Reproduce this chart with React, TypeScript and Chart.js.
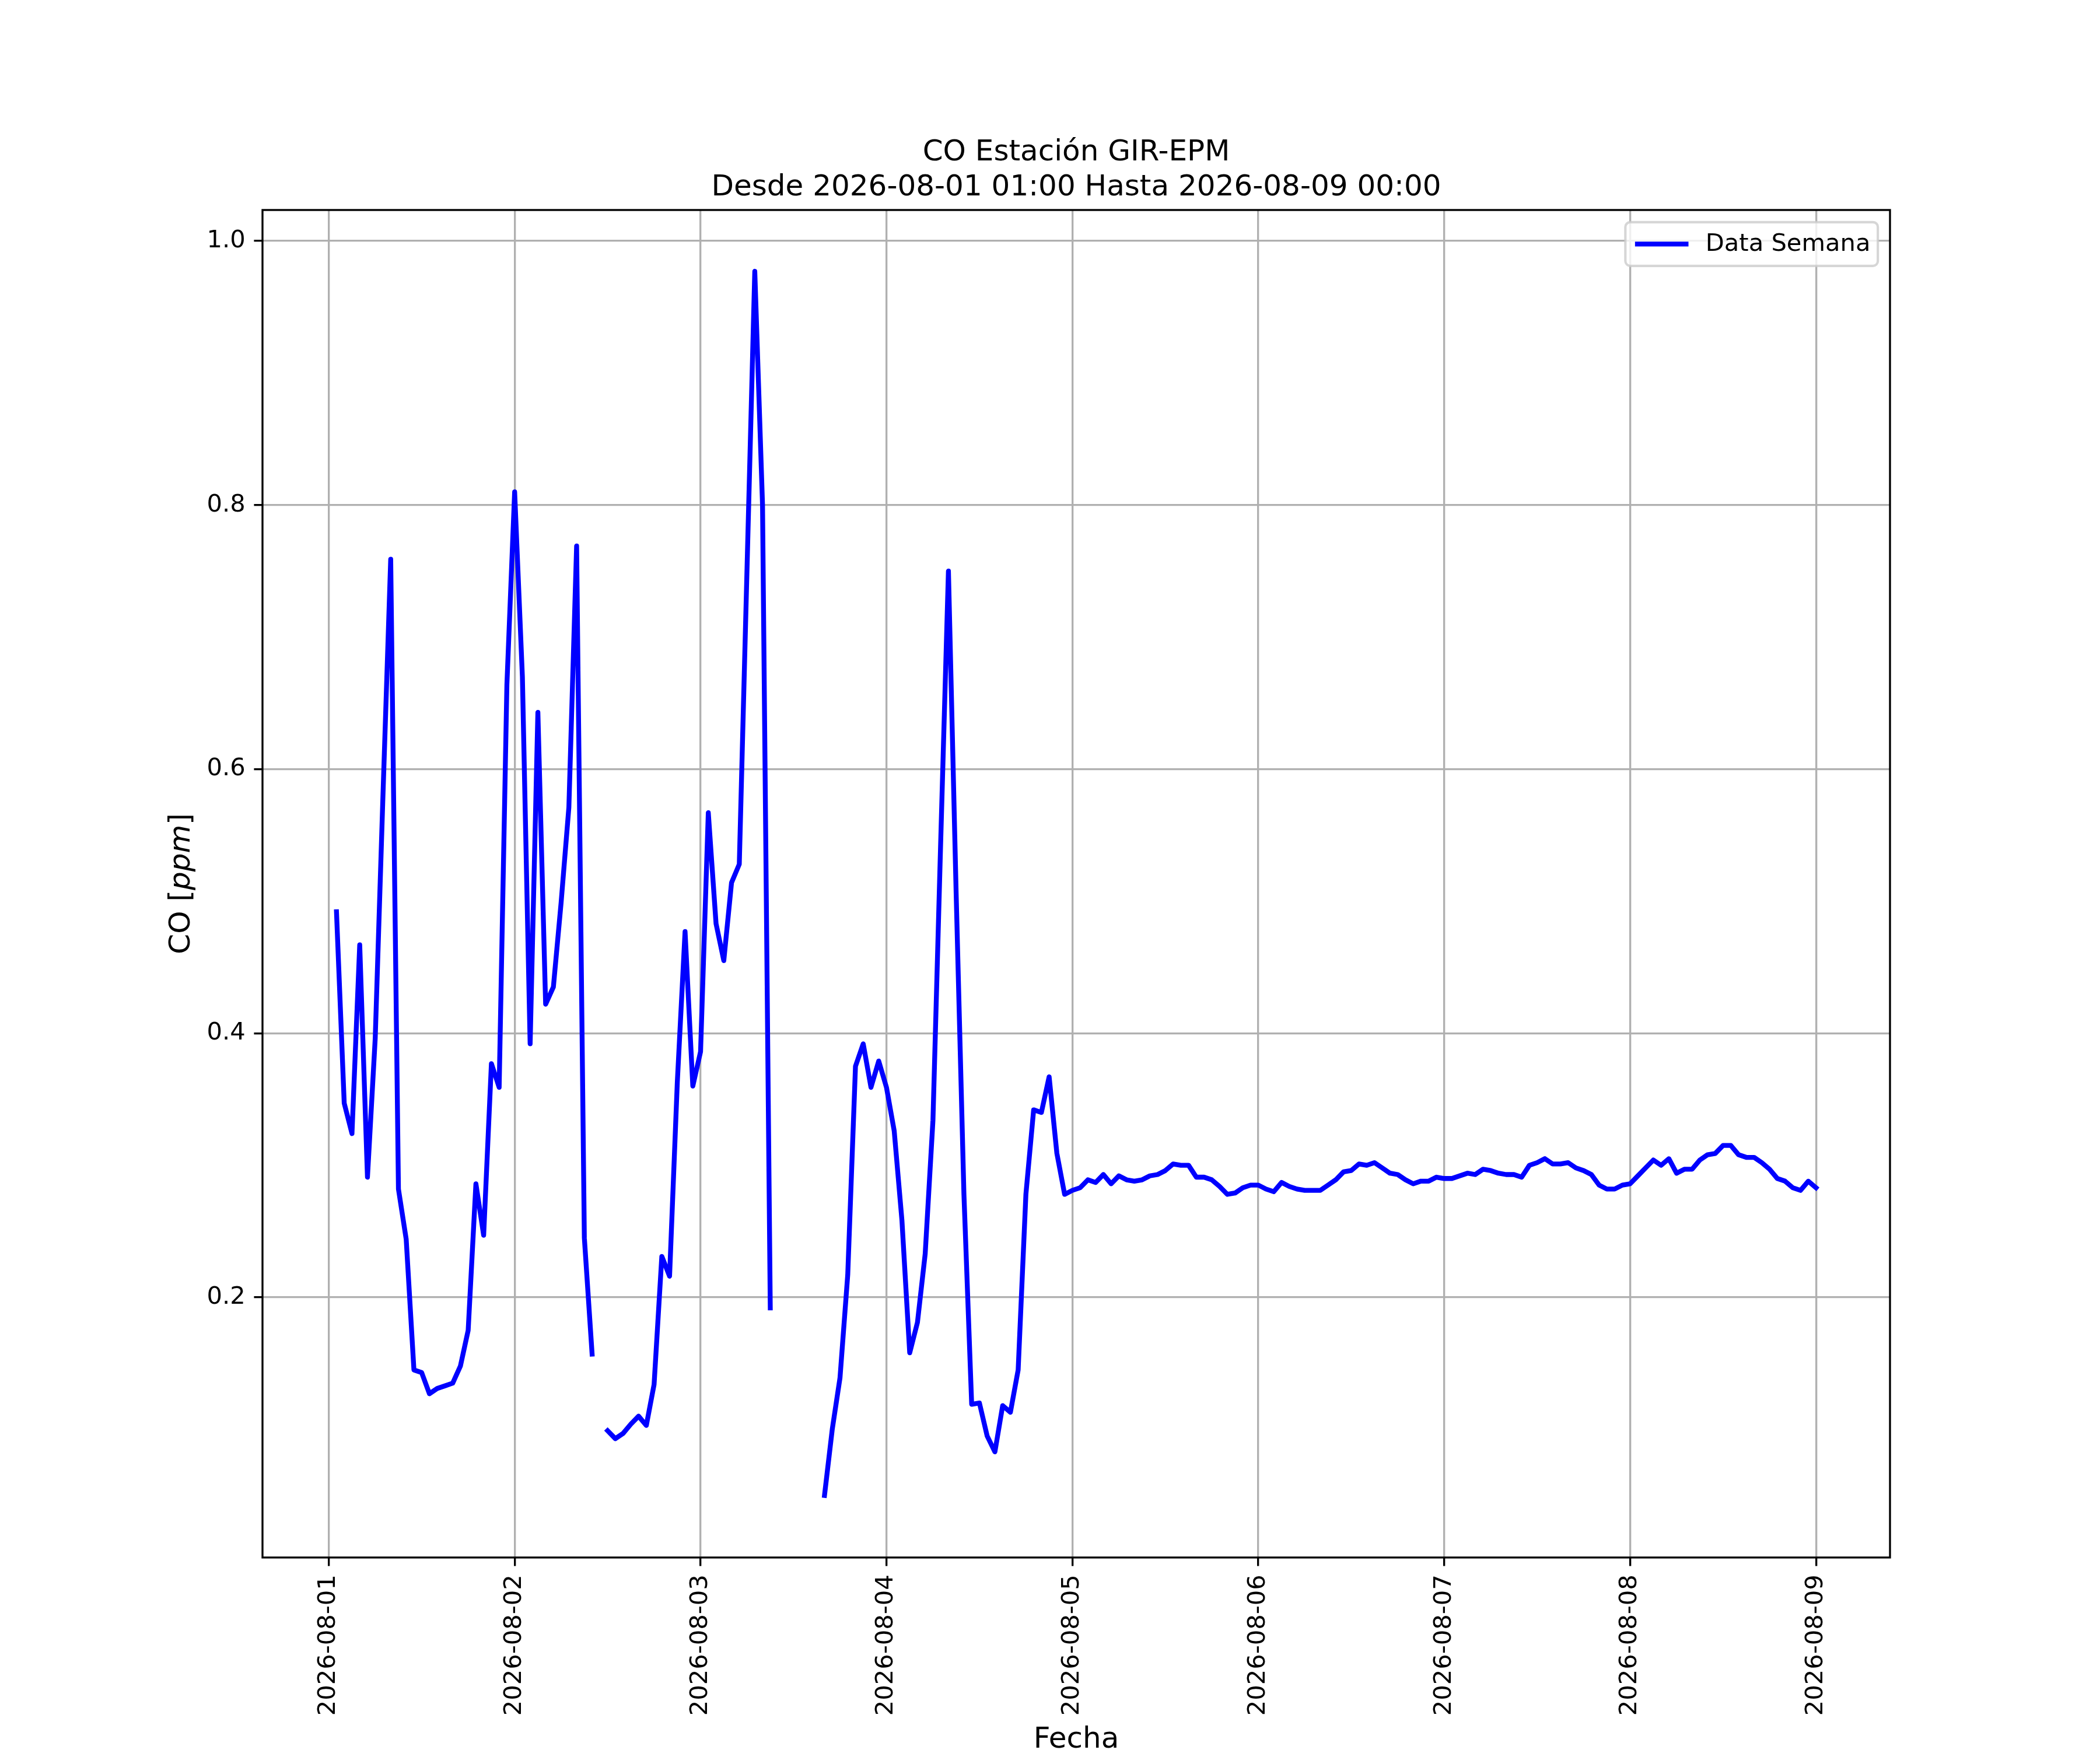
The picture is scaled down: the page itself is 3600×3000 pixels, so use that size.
import { useEffect, useRef } from "react"
import { Chart, registerables, type Plugin } from "chart.js"

Chart.register(...registerables)

// hourly CO readings, 2026-08-01 01:00 .. 2026-08-09 00:00 (null = no data)
const FIRST_HOUR = 1
const CO_PPM: (number | null)[] = [
  // 08-01
  0.492, 0.347, 0.324, 0.467, 0.291, 0.396, 0.580, 0.759, 0.282, 0.244, 0.145, 0.143,
  0.127, 0.131, 0.133, 0.135, 0.148, 0.175, 0.286, 0.247, 0.377, 0.359, 0.664, 0.810,
  // 08-02
  0.670, 0.392, 0.643, 0.422, 0.435, 0.499, 0.571, 0.769, 0.245, 0.157, null, 0.099,
  0.093, 0.097, 0.104, 0.110, 0.103, 0.134, 0.231, 0.216, 0.363, 0.477, 0.360, 0.386,
  // 08-03
  0.567, 0.483, 0.455, 0.514, 0.528, 0.752, 0.977, 0.800, 0.192, null, null, null,
  null, null, null, 0.050, 0.100, 0.139, 0.217, 0.375, 0.392, 0.359, 0.379, 0.359,
  // 08-04
  0.326, 0.258, 0.158, 0.181, 0.233, 0.334, 0.545, 0.750, 0.505, 0.278, 0.119, 0.120,
  0.095, 0.083, 0.118, 0.113, 0.145, 0.278, 0.342, 0.340, 0.367, 0.309, 0.278, 0.281,
  // 08-05
  0.283, 0.289, 0.287, 0.293, 0.286, 0.292, 0.289, 0.288, 0.289, 0.292, 0.293, 0.296,
  0.301, 0.300, 0.300, 0.291, 0.291, 0.289, 0.284, 0.278, 0.279, 0.283, 0.285, 0.285,
  // 08-06
  0.282, 0.280, 0.287, 0.284, 0.282, 0.281, 0.281, 0.281, 0.285, 0.289, 0.295, 0.296,
  0.301, 0.300, 0.302, 0.298, 0.294, 0.293, 0.289, 0.286, 0.288, 0.288, 0.291, 0.290,
  // 08-07
  0.290, 0.292, 0.294, 0.293, 0.297, 0.296, 0.294, 0.293, 0.293, 0.291, 0.300, 0.302,
  0.305, 0.301, 0.301, 0.302, 0.298, 0.296, 0.293, 0.285, 0.282, 0.282, 0.285, 0.286,
  // 08-08
  0.292, 0.298, 0.304, 0.300, 0.305, 0.294, 0.297, 0.297, 0.304, 0.308, 0.309, 0.315,
  0.315, 0.308, 0.306, 0.306, 0.302, 0.297, 0.290, 0.288, 0.283, 0.281, 0.288, 0.283,
]

const TICK_HOURS = [0, 24, 48, 72, 96, 120, 144, 168, 192]
const TICK_LABELS = [
  "2026-08-01", "2026-08-02", "2026-08-03", "2026-08-04", "2026-08-05",
  "2026-08-06", "2026-08-07", "2026-08-08", "2026-08-09",
]
const Y_TICKS = [0.2, 0.4, 0.6, 0.8, 1.0]

const TITLE = ["CO Estación GIR-EPM", "Desde 2026-08-01 01:00 Hasta 2026-08-09 00:00"]
const SERIES_LABEL = "Data Semana"

const W = 3600
const H = 3000
const PT = 300 / 72 // matplotlib at 300 dpi
const FONT = "'DejaVu Sans', sans-serif"

// titles, frame, axis labels and legend drawn the matplotlib way
const decor: Plugin<"line"> = {
  id: "decor",
  afterDatasetsDraw(chart) {
    const { ctx, chartArea: a } = chart
    ctx.save()
    ctx.strokeStyle = "#000"
    ctx.lineWidth = 0.8 * PT
    ctx.strokeRect(a.left, a.top, a.right - a.left, a.bottom - a.top)
    ctx.restore()
  },
  afterDraw(chart) {
    const { ctx, chartArea: a } = chart
    const cx = (a.left + a.right) / 2
    const cy = (a.top + a.bottom) / 2
    ctx.save()
    ctx.fillStyle = "#000"
    ctx.textBaseline = "alphabetic"

    // title
    ctx.font = `${12 * PT}px ${FONT}`
    ctx.textAlign = "center"
    ctx.fillText(TITLE[0], cx, a.top - 85)
    ctx.fillText(TITLE[1], cx, a.top - 25)

    // x label
    ctx.fillText("Fecha", cx, 2996)

    // y label: CO [ppm] with italic ppm
    const reg = `${12 * PT}px ${FONT}`
    const ita = `italic ${12 * PT}px ${FONT}`
    const parts: [string, string][] = [["CO [", reg], ["ppm", ita], ["]", reg]]
    let total = 0
    for (const [t, f] of parts) {
      ctx.font = f
      total += ctx.measureText(t).width
    }
    ctx.translate(325, cy)
    ctx.rotate(-Math.PI / 2)
    ctx.textAlign = "left"
    let px = -total / 2
    for (const [t, f] of parts) {
      ctx.font = f
      ctx.fillText(t, px, 0)
      px += ctx.measureText(t).width
    }
    ctx.restore()

    // legend, upper right
    ctx.save()
    const fs = 10 * PT
    ctx.font = `${fs}px ${FONT}`
    const label = chart.data.datasets[0].label ?? ""
    const tw = ctx.measureText(label).width
    const right = a.right - 0.5 * fs
    const top = a.top + 0.5 * fs
    const bw = 0.4 * fs + 2 * fs + 0.8 * fs + tw + 0.4 * fs
    const bh = 75
    const left = right - bw
    ctx.beginPath()
    ctx.roundRect(left, top, bw, bh, 0.2 * fs)
    ctx.fillStyle = "rgba(255,255,255,0.8)"
    ctx.fill()
    ctx.strokeStyle = "rgba(204,204,204,0.8)"
    ctx.lineWidth = 1 * PT
    ctx.stroke()
    const ly = top + bh / 2
    const hx = left + 0.4 * fs + 4
    ctx.beginPath()
    ctx.moveTo(hx, ly)
    ctx.lineTo(hx + 2 * fs, ly)
    ctx.strokeStyle = "#0000ff"
    ctx.lineWidth = 2 * PT
    ctx.lineCap = "square"
    ctx.stroke()
    ctx.fillStyle = "#000"
    ctx.textAlign = "left"
    ctx.textBaseline = "alphabetic"
    ctx.fillText(label, hx + 2 * fs + 0.8 * fs, top + 49)
    ctx.restore()
  },
}

export default function App() {
  const canvasRef = useRef<HTMLCanvasElement>(null)
  const chartRef = useRef<Chart<"line"> | null>(null)

  useEffect(() => {
    document.body.style.margin = "0"
    if (!canvasRef.current) return
    if (chartRef.current) chartRef.current.destroy()

    const points = CO_PPM.map((v, i) => ({ x: FIRST_HOUR + i, y: v }))

    chartRef.current = new Chart(canvasRef.current, {
      type: "line",
      data: {
        datasets: [
          {
            label: SERIES_LABEL,
            data: points as any,
            borderColor: "#0000ff",
            borderWidth: 2 * PT,
            borderJoinStyle: "round",
            borderCapStyle: "square",
            pointRadius: 0,
            tension: 0,
            spanGaps: false,
            fill: false,
          },
        ],
      },
      options: {
        animation: false,
        responsive: false,
        devicePixelRatio: 1,
        layout: { padding: { top: 360, right: 360, left: 0, bottom: 0 } },
        plugins: {
          legend: { display: false },
          title: { display: false },
          tooltip: { enabled: false },
        },
        scales: {
          x: {
            type: "linear",
            min: -8.55,
            max: 201.55,
            afterFit: (s) => {
              s.height = 330
            },
            afterBuildTicks: (s) => {
              s.ticks = TICK_HOURS.map((v) => ({ value: v }))
            },
            grid: {
              color: "#b0b0b0",
              lineWidth: 0.8 * PT,
              drawTicks: true,
              tickLength: 3.5 * PT,
              tickColor: "#000",
              tickWidth: 0.8 * PT,
            },
            border: { display: false },
            ticks: {
              autoSkip: false,
              minRotation: 90,
              maxRotation: 90,
              padding: 3.5 * PT,
              color: "#000",
              font: { family: FONT, size: 10 * PT },
              callback: (_v, i) => TICK_LABELS[i],
            },
          },
          y: {
            type: "linear",
            min: 0.003,
            max: 1.0234,
            afterFit: (s) => {
              s.width = 450
            },
            afterBuildTicks: (s) => {
              s.ticks = Y_TICKS.map((v) => ({ value: v }))
            },
            grid: {
              color: "#b0b0b0",
              lineWidth: 0.8 * PT,
              drawTicks: true,
              tickLength: 3.5 * PT,
              tickColor: "#000",
              tickWidth: 0.8 * PT,
            },
            border: { display: false },
            ticks: {
              padding: 3.5 * PT,
              color: "#000",
              font: { family: FONT, size: 10 * PT },
              callback: (v) => Number(v).toFixed(1),
            },
          },
        },
      },
      plugins: [decor],
    })

    return () => {
      if (chartRef.current) {
        chartRef.current.destroy()
        chartRef.current = null
      }
    }
  }, [])

  return (
    <div style={{ width: W, height: H, background: "#fff" }}>
      <canvas ref={canvasRef} width={W} height={H} style={{ display: "block", width: W, height: H }} />
    </div>
  )
}
